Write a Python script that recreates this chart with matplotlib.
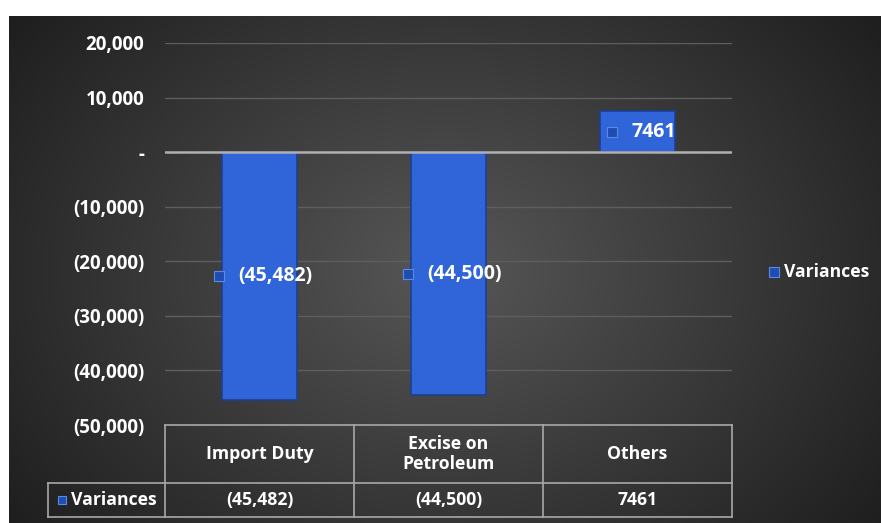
import numpy as np
import matplotlib
matplotlib.use("Agg")
import matplotlib.pyplot as plt
from matplotlib.transforms import offset_copy
from matplotlib.lines import Line2D

categories = ["Import Duty", "Excise on\nPetroleum", "Others"]
values = [-45482, -44500, 7461]
value_labels = ["(45,482)", "(44,500)", "7461"]
series_name = "Variances"
yticks = [20000, 10000, 0, -10000, -20000, -30000, -40000, -50000]
ytick_labels = ["20,000", "10,000", "-", "(10,000)", "(20,000)", "(30,000)", "(40,000)", "(50,000)"]

plt.rcParams['font.family'] = ['Open Sans', 'DejaVu Sans']
FW = 'bold'
W, H = 881, 523
fig = plt.figure(figsize=(W/100, H/100), dpi=100)
fig.patch.set_facecolor("white")

# background gradient
bg = fig.add_axes([9/W, 0, 1-9/W, 1-16/H])
bg.set_axis_off()
yy, xx = np.mgrid[0:200, 0:300]
cx, cy = 150, 100
d = np.sqrt(((xx-cx)/170.0)**2 + ((yy-cy)/150.0)**2)
v = np.clip(0.34 - 0.2*d, 0.12, 0.36)
img = np.dstack([v, v, v])
bg.imshow(img, aspect='auto', extent=[0, 1, 0, 1], interpolation='bilinear')

L, R, T, B = 165, 732, 43, 425
ax = fig.add_axes([L/W, 1-B/H, (R-L)/W, (B-T)/H])
ax.set_facecolor('none')
x = np.arange(len(categories))
bars = ax.bar(x, values, width=0.4, color='#2f65d8', edgecolor='#1d3f91', linewidth=1.2, zorder=3)
ax.set_xlim(-0.5, len(categories)-0.5)
ax.set_ylim(-50000, 20000)
ax.set_yticks(yticks)
ax.set_yticklabels(ytick_labels)
ax.tick_params(axis='y', length=0, pad=15, labelsize=13.5, labelcolor='white')
for lab in ax.get_yticklabels():
    lab.set_fontweight(FW)
ax.set_xticks([])
for s in ax.spines.values():
    s.set_visible(False)
for t in yticks:
    if t == 0:
        ax.axhline(t, color='#b0b0b0', lw=1.8, zorder=4)
    elif t > -50000:
        ax.axhline(t, color='#5e5e5e', lw=1.0, zorder=1)

MK = dict(marker='s', mfc='#1e4cb0', mec='#5a8ae8', mew=0.8)

# data labels
fig.canvas.draw()
renderer = fig.canvas.get_renderer()
for i, (val, lab) in enumerate(zip(values, value_labels)):
    tr = offset_copy(ax.transData, fig=fig, x=16*0.72, y=0, units='points')
    t = ax.text(i, val/2, lab, ha='center', va='center', color='white',
                fontsize=14, fontweight=FW, transform=tr, zorder=6)
    bb = t.get_window_extent(renderer)
    dx = (16 - bb.width/2 - 19) * 0.72
    trm = offset_copy(ax.transData, fig=fig, x=dx, y=0, units='points')
    ax.plot([i], [val/2], ms=7, transform=trm, zorder=6, **MK)

# legend
fig.lines.append(Line2D([774/W], [1-272/H], ms=7, transform=fig.transFigure, **MK))
fig.text(784/W, 1-272/H, series_name, color='white', fontsize=12.6, fontweight=FW, va='center', ha='left')

# data table
lc = '#a8a8a8'
rows = [425, 483, 517]
cols = [L + (R-L)*k/3 for k in range(4)]
left_cell = 48
def hl(y, x0, x1):
    fig.lines.append(Line2D([x0/W, x1/W], [1-y/H, 1-y/H], color=lc, lw=1.2, transform=fig.transFigure))
def vl(xp, y0, y1):
    fig.lines.append(Line2D([xp/W, xp/W], [1-y0/H, 1-y1/H], color=lc, lw=1.2, transform=fig.transFigure))
hl(rows[0], cols[0], cols[-1])
hl(rows[1], left_cell, cols[-1])
hl(rows[2], left_cell, cols[-1])
for c in cols:
    vl(c, rows[0], rows[2])
vl(left_cell, rows[1], rows[2])
for k, cat in enumerate(categories):
    xc = (cols[k] + cols[k+1]) / 2
    fig.text(xc/W, 1-(rows[0]+rows[1])/2/H, cat, ha='center', va='center', color='white',
             fontsize=12.7, fontweight=FW, linespacing=1.2)
    fig.text(xc/W, 1-(rows[1]+rows[2])/2/H, value_labels[k], ha='center', va='center', color='white',
             fontsize=12.7, fontweight=FW)
fig.lines.append(Line2D([62/W], [1-500/H], ms=6, transform=fig.transFigure, **MK))
fig.text(71/W, 1-500/H, series_name, ha='left', va='center', color='white', fontsize=12.7, fontweight=FW)

fig.savefig("out.png", dpi=100, facecolor=fig.get_facecolor())
